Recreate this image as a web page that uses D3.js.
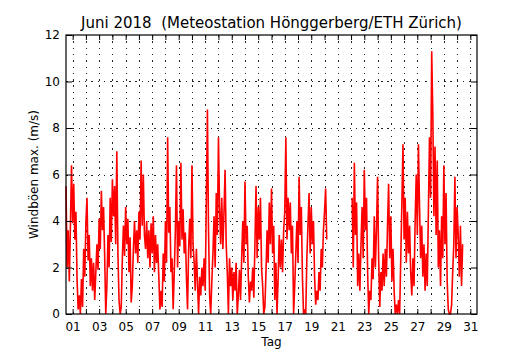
<!DOCTYPE html>
<html><head><meta charset="utf-8">
<script src="https://cdn.jsdelivr.net/npm/d3@7/dist/d3.min.js"></script>
<style>
body{margin:0;background:#fff}
svg text{font-family:"DejaVu Sans",sans-serif;fill:#000}
</style>
</head><body>
<svg id="chart" width="530" height="350"></svg>
<script>
const titleText = "Juni 2018  (Meteostation Hönggerberg/ETH Zürich)";
const yLabelText = "Windböen max. (m/s)";
const xLabelText = "Tag";
const days = d3.range(1, 32);
const dayLabels = ["01","03","05","07","09","11","13","15","17","19","21","23","25","27","29","31"];
const yTicks = [0, 2, 4, 6, 8, 10, 12];
const stepHours = 2;
// max gusts (m/s), one value every 2 hours, June 1 00:00 .. June 30 22:00 (null = no data)
const gust = [
  5.5,2.0,3.6,1.4,3.8,6.4,3.9,5.6,3.2,4.4,1.5,0.2,
  0.8,0.0,1.5,0.3,2.8,1.6,3.9,5.0,2.3,3.4,1.2,2.4,
  1.0,2.2,0.6,1.8,3.0,1.9,4.1,2.8,5.3,3.6,4.6,2.5,
  0.0,1.2,3.4,2.0,5.0,3.1,5.8,4.2,5.5,3.0,7.0,2.6,
  0.6,0.0,0.3,2.4,3.8,2.5,4.6,3.0,4.1,1.8,3.3,0.5,
  1.2,2.8,4.0,2.6,3.6,2.2,4.4,3.2,6.6,3.8,6.0,3.4,
  2.8,4.0,2.4,3.6,2.0,3.9,2.6,4.2,1.8,3.4,2.2,3.0,
  1.6,0.2,1.0,0.3,2.6,1.4,4.0,2.2,7.6,3.5,4.6,1.8,
  2.4,0.2,1.8,3.6,6.4,2.0,4.0,2.9,6.5,3.2,4.5,2.6,
  3.5,1.6,0.2,2.8,4.1,2.4,6.4,3.0,2.2,1.0,2.8,1.4,
  0.0,1.6,0.8,2.0,1.2,2.4,1.0,4.8,8.8,3.6,0.8,0.0,
  1.4,2.6,4.2,2.0,5.2,3.4,7.6,4.6,3.0,5.0,2.8,4.4,
  6.2,3.0,1.8,0.0,2.4,1.2,2.0,0.6,1.8,1.0,2.2,0.0,
  0.8,1.9,0.6,2.4,4.0,2.2,5.7,3.0,3.8,1.6,0.5,1.4,
  1.0,2.0,0.7,3.0,5.5,2.4,4.6,3.2,5.0,2.0,1.2,0.0,
  0.3,1.8,3.6,2.2,4.8,3.0,5.4,2.6,3.8,0.6,2.2,0.0,
  1.5,3.4,2.0,3.2,1.8,3.6,4.4,7.6,3.2,5.0,3.6,4.8,
  2.6,3.8,0.0,1.2,2.6,4.0,2.2,5.9,3.4,4.6,1.6,0.0,
  0.2,0.0,2.4,3.8,5.2,2.6,4.6,3.0,4.0,1.6,0.4,1.0,
  0.6,1.8,1.0,2.8,2.0,3.6,4.4,5.4,3.2,null,null,null,
  null,null,null,null,null,null,null,null,null,null,null,null,
  null,null,null,null,null,null,null,5.0,2.0,6.5,3.4,4.8,
  1.2,2.6,1.0,3.0,4.6,2.4,6.2,3.6,5.0,1.8,0.0,1.0,
  0.6,2.4,1.5,4.2,2.0,3.6,5.9,2.4,0.3,1.8,1.0,2.6,
  1.2,2.8,1.6,3.8,5.6,2.4,4.2,1.4,2.8,1.0,0.0,0.4,
  0.0,0.6,0.0,2.4,4.8,7.3,3.2,5.0,2.2,4.4,2.6,3.8,
  1.8,0.8,2.4,1.2,4.0,6.0,3.4,7.3,4.6,2.4,3.8,1.6,
  3.0,1.0,2.6,1.2,4.4,7.6,5.0,11.3,8.6,4.2,7.2,3.4,
  6.6,2.0,3.6,1.2,4.2,2.4,6.4,3.0,5.2,1.4,0.2,0.0,
  0.0,0.4,1.8,3.0,5.9,2.4,4.6,3.4,1.6,3.8,1.2,3.0
];

const L = 66, R = 477, T = 35, B = 314;
const svg = d3.select("#chart");
const x = d3.scaleLinear().domain([0, 31]).range([L, R]);
const y = d3.scaleLinear().domain([0, 12]).range([B, T]);

// grid
const grid = svg.append("g").attr("stroke", "#222").attr("stroke-width", 1)
  .attr("stroke-dasharray", "1.5,4.8").attr("shape-rendering", "crispEdges");
grid.selectAll("line.v").data(days).join("line").attr("class", "v")
  .attr("x1", d => Math.round(x(d - 0.5)) + 0.5).attr("x2", d => Math.round(x(d - 0.5)) + 0.5)
  .attr("y1", T).attr("y2", B);
grid.selectAll("line.h").data(yTicks.slice(1, -1)).join("line").attr("class", "h")
  .attr("y1", d => Math.round(y(d)) + 0.5).attr("y2", d => Math.round(y(d)) + 0.5)
  .attr("x1", L).attr("x2", R);

// data line
const pts = gust.map((v, i) => ({t: i * stepHours / 24, v}));
const line = d3.line().defined(d => d.v != null).x(d => x(d.t)).y(d => y(d.v));
svg.append("path").datum(pts).attr("d", line).attr("fill", "none")
  .attr("stroke", "#ff0000").attr("stroke-width", 1.6).attr("stroke-linejoin", "miter");

// axes
const xAxis = d3.axisBottom(x).tickValues(days.map(d => d - 0.5))
  .tickFormat(t => { const s = String(t + 0.5).padStart(2, "0"); return dayLabels.includes(s) ? s : ""; })
  .tickSizeInner(-5).tickSizeOuter(0).tickPadding(8);
const gx = svg.append("g").attr("transform", `translate(0,${B})`).call(xAxis);
const xTop = d3.axisTop(x).tickValues(days.map(d => d - 0.5)).tickFormat("")
  .tickSizeInner(-5).tickSizeOuter(0);
const gxt = svg.append("g").attr("transform", `translate(0,${T})`).call(xTop);
const yAxis = d3.axisLeft(y).tickValues(yTicks).tickFormat(d3.format("d"))
  .tickSizeInner(-6).tickSizeOuter(0).tickPadding(6);
const gy = svg.append("g").attr("transform", `translate(${L},0)`).call(yAxis);
const yRight = d3.axisRight(y).tickValues(yTicks).tickFormat("")
  .tickSizeInner(-6).tickSizeOuter(0);
const gyr = svg.append("g").attr("transform", `translate(${R},0)`).call(yRight);
[gx, gxt, gy, gyr].forEach(g => {
  g.select(".domain").remove();
  g.selectAll("line").attr("stroke", "#000").attr("stroke-width", 1);
  g.selectAll("text").attr("font-size", 12).attr("font-family", "DejaVu Sans");
});

// frame
svg.append("rect").attr("x", L).attr("y", T).attr("width", R - L).attr("height", B - T)
  .attr("fill", "none").attr("stroke", "#000").attr("stroke-width", 1.2);

// labels
svg.append("text").attr("x", (L + R) / 2).attr("y", 28).attr("text-anchor", "middle")
  .attr("font-size", 15).style("white-space", "pre").text(titleText);
svg.append("text").attr("x", (L + R) / 2).attr("y", 346).attr("text-anchor", "middle")
  .attr("font-size", 12).text(xLabelText);
svg.append("text").attr("transform", `translate(38,${(T + B) / 2}) rotate(-90)`)
  .attr("text-anchor", "middle").attr("font-size", 12).text(yLabelText);
</script>
</body></html>
